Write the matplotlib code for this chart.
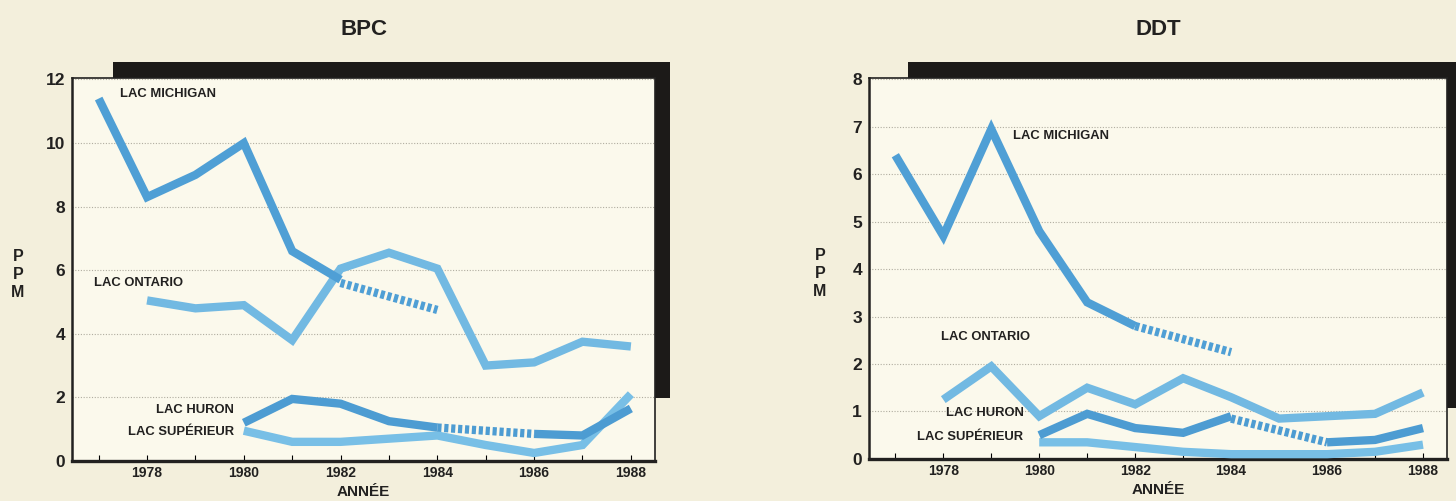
import numpy as np
import matplotlib
matplotlib.use('Agg')
import matplotlib.pyplot as plt
from matplotlib.patches import Rectangle

# ---- data ----
years = list(range(1977, 1989))

# BPC (ppm)
bpc_michigan_yrs = [1977, 1978, 1979, 1980, 1981, 1982]
bpc_michigan = [11.4, 8.3, 9.0, 10.0, 6.6, 5.7]
bpc_michigan_est_yrs = [1982, 1984]
bpc_michigan_est = [5.6, 4.75]
bpc_ontario_yrs = [1978, 1979, 1980, 1981, 1982, 1983, 1984, 1985, 1986, 1987, 1988]
bpc_ontario = [5.05, 4.8, 4.9, 3.8, 6.05, 6.55, 6.05, 3.0, 3.1, 3.75, 3.6]
bpc_huron_yrs = [1980, 1981, 1982, 1983, 1984]
bpc_huron = [1.2, 1.95, 1.8, 1.25, 1.05]
bpc_huron_est_yrs = [1984, 1986]
bpc_huron_est = [1.05, 0.85]
bpc_huron2_yrs = [1986, 1987, 1988]
bpc_huron2 = [0.85, 0.8, 1.65]
bpc_superieur_yrs = [1980, 1981, 1982, 1983, 1984, 1985, 1986, 1987, 1988]
bpc_superieur = [0.95, 0.6, 0.6, 0.7, 0.8, 0.5, 0.25, 0.5, 2.1]

# DDT (ppm)
ddt_michigan_yrs = [1977, 1978, 1979, 1980, 1981, 1982]
ddt_michigan = [6.4, 4.7, 6.95, 4.8, 3.3, 2.8]
ddt_michigan_est_yrs = [1982, 1984]
ddt_michigan_est = [2.8, 2.25]
ddt_ontario_yrs = [1978, 1979, 1980, 1981, 1982, 1983, 1984, 1985, 1986, 1987, 1988]
ddt_ontario = [1.25, 1.95, 0.9, 1.5, 1.15, 1.7, 1.3, 0.85, 0.9, 0.95, 1.4]
ddt_huron_yrs = [1980, 1981, 1982, 1983, 1984]
ddt_huron = [0.5, 0.95, 0.65, 0.55, 0.9]
ddt_huron_est_yrs = [1984, 1986]
ddt_huron_est = [0.85, 0.35]
ddt_huron2_yrs = [1986, 1987, 1988]
ddt_huron2 = [0.35, 0.4, 0.65]
ddt_superieur_yrs = [1980, 1981, 1982, 1983, 1984, 1985, 1986, 1987, 1988]
ddt_superieur = [0.35, 0.35, 0.25, 0.15, 0.1, 0.1, 0.1, 0.15, 0.3]

BG = '#f3efdc'
INNER = '#fbf9ec'
INK = '#222120'
C_MICH = '#4f9fd5'
C_ONT = '#72b9e2'
C_HUR = '#4d9cd2'
C_SUP = '#78bfe6'
NARROW = ['Liberation Sans Narrow', 'Liberation Sans', 'DejaVu Sans']
WIDE = ['Liberation Sans', 'DejaVu Sans']
LW = 6


def solid(ax, x, y, c):
    ax.plot(x, y, color=c, lw=LW, solid_capstyle='butt',
            solid_joinstyle='miter', zorder=3)


def dashed(ax, x, y, c):
    ax.plot(x, y, color=c, lw=LW, linestyle=(0, (0.5, 0.33)),
            dash_capstyle='butt', zorder=3)


def panel(fig, rect, title, ylim, yticks, shadow, ppm_x):
    ax = fig.add_axes(rect, facecolor=INNER, zorder=1)
    ax.set_xlim(1976.45, 1988.5)
    ax.set_ylim(*ylim)
    ax.set_yticks(yticks)
    ax.set_xticks(years)
    ax.set_xticklabels([str(y) if y % 2 == 0 else '' for y in years],
                       fontsize=10, fontweight='bold', family=NARROW,
                       color=INK)
    ax.set_yticklabels([str(v) for v in yticks], fontsize=12.5,
                       fontweight='bold', family=WIDE, color=INK)
    ax.tick_params(axis='x', direction='in', length=4, width=0.8, pad=4)
    ax.tick_params(axis='y', length=0, pad=5)
    for g in yticks[1:]:
        ax.axhline(g, color='#b0ada0', lw=0.8, ls=(0, (1, 1.5)), zorder=1)
    for s in ['right', 'top']:
        ax.spines[s].set_linewidth(1.2)
        ax.spines[s].set_color(INK)
    ax.spines['left'].set_linewidth(1.8)
    ax.spines['left'].set_color(INK)
    ax.spines['bottom'].set_linewidth(2.4)
    ax.spines['bottom'].set_color(INK)
    ax.set_title(title, fontsize=16, fontweight='bold', family=WIDE,
                 color=INK, pad=31)
    ax.set_xlabel('ANNÉE', fontsize=11, fontweight='bold', family=NARROW,
                  color=INK, labelpad=3)
    ax.text(ppm_x, 0.487, 'P\nP\nM', transform=ax.transAxes, fontsize=11.5,
            fontweight='bold', family=WIDE, ha='center', va='center',
            linespacing=1.28, color=INK)
    # black offset box behind the plot
    x0, x1, y0, y1 = shadow
    fig.add_artist(Rectangle((rect[0] + x0 * rect[2], rect[1] + y0 * rect[3]),
                             (x1 - x0) * rect[2], (y1 - y0) * rect[3],
                             transform=fig.transFigure, facecolor='#1c1a18',
                             edgecolor='none', zorder=0))
    return ax


def label(ax, x, y, s, ha='left'):
    ax.text(x, y, s, fontsize=9.4, fontweight='bold', family=NARROW,
            ha=ha, va='center', color=INK, zorder=4)


fig = plt.figure(figsize=(14.56, 5.01), dpi=100, facecolor=BG)

# BPC
ax1 = panel(fig, [0.0495, 0.080, 0.4004, 0.7645], 'BPC', (0, 12.05),
            [0, 2, 4, 6, 8, 10, 12], (0.070, 1.026, 0.164, 1.042), -0.093)
solid(ax1, bpc_ontario_yrs, bpc_ontario, C_ONT)
solid(ax1, bpc_superieur_yrs, bpc_superieur, C_SUP)
solid(ax1, bpc_huron_yrs, bpc_huron, C_HUR)
dashed(ax1, bpc_huron_est_yrs, bpc_huron_est, C_HUR)
solid(ax1, bpc_huron2_yrs, bpc_huron2, C_HUR)
solid(ax1, bpc_michigan_yrs, bpc_michigan, C_MICH)
dashed(ax1, bpc_michigan_est_yrs, bpc_michigan_est, C_MICH)
label(ax1, 1977.45, 11.55, 'LAC MICHIGAN')
label(ax1, 1976.9, 5.6, 'LAC ONTARIO')
label(ax1, 1979.8, 1.6, 'LAC HURON', ha='right')
label(ax1, 1979.8, 0.9, 'LAC SUPÉRIEUR', ha='right')

# DDT
ax2 = panel(fig, [0.5968, 0.084, 0.397, 0.7605], 'DDT', (0, 8.03),
            [0, 1, 2, 3, 4, 5, 6, 7, 8], (0.067, 1.10, 0.134, 1.042), -0.085)
solid(ax2, ddt_ontario_yrs, ddt_ontario, C_ONT)
solid(ax2, ddt_superieur_yrs, ddt_superieur, C_SUP)
solid(ax2, ddt_huron_yrs, ddt_huron, C_HUR)
dashed(ax2, ddt_huron_est_yrs, ddt_huron_est, C_HUR)
solid(ax2, ddt_huron2_yrs, ddt_huron2, C_HUR)
solid(ax2, ddt_michigan_yrs, ddt_michigan, C_MICH)
dashed(ax2, ddt_michigan_est_yrs, ddt_michigan_est, C_MICH)
label(ax2, 1979.45, 6.8, 'LAC MICHIGAN')
label(ax2, 1977.96, 2.56, 'LAC ONTARIO')
label(ax2, 1979.67, 0.97, 'LAC HURON', ha='right')
label(ax2, 1979.67, 0.46, 'LAC SUPÉRIEUR', ha='right')

fig.savefig('out.png', dpi=100, facecolor=BG)
